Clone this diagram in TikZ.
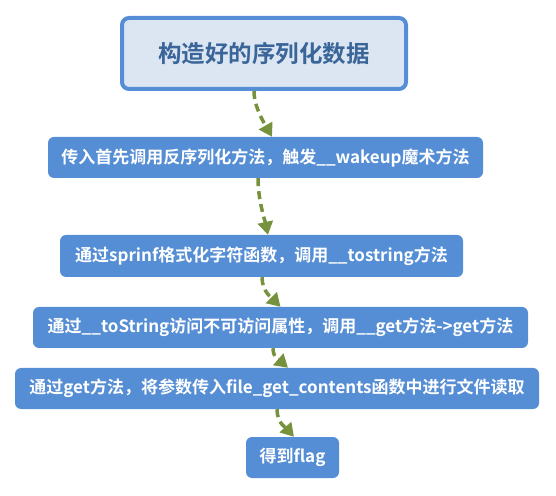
\documentclass[tikz,border=0pt]{standalone}
\usepackage{fontspec}
\setmainfont{Noto Sans CJK SC}[BoldFont={Noto Sans CJK SC Bold}]
\usepackage{tikz}
\usetikzlibrary{arrows.meta,positioning,calc}

\definecolor{boxblue}{HTML}{558ED5}
\definecolor{topfill}{HTML}{DCE6F2}
\definecolor{toptext}{HTML}{3A6599}
\definecolor{arrowgreen}{HTML}{76923C}

\begin{document}
\begin{tikzpicture}[x=1pt, y=1pt,
    topbox/.style={draw=boxblue, line width=4pt, fill=topfill, rounded corners=7pt,
        minimum width=284pt, minimum height=71pt, inner sep=0pt,
        text=toptext, font=\fontsize{23.5}{28}\selectfont\bfseries},
    stepbox/.style={fill=boxblue, rounded corners=6pt, minimum height=41pt, inner sep=0pt,
        text=white, font=\fontsize{17}{20}\selectfont\bfseries},
    flow/.style={arrowgreen, line width=3.5pt, dash pattern=on 8pt off 5pt,
        -{Triangle[length=13pt, width=15pt]}}]
    \useasboundingbox (0,0) rectangle (556,495);

    % Boxes
    \node[topbox] (data) at (264, 441.5) {构造好的序列化数据};
    \node[stepbox, minimum width=435pt] (wake) at (265.5, 337.5) {传入首先调用反序列化方法，触发\_\_wakeup魔术方法};
    \node[stepbox, minimum width=403pt, minimum height=42pt] (tostr) at (261.5, 239) {通过sprinf格式化字符函数，调用\_\_tostring方法};
    \node[stepbox, minimum width=495pt] (getm) at (280.5, 167.5) {通过\_\_toString访问不可访问属性，调用\_\_get方法->get方法};
    \node[stepbox, minimum width=524pt] (read) at (277, 106.5) {通过get方法，将参数传入file\_get\_contents函数中进行文件读取};
    \node[stepbox, minimum width=93pt] (flag) at (292.5, 37.5) {得到flag};

    % Dashed connectors
    \draw[flow] ([xshift=-10pt]data.south) .. controls +(0,-16) and +(-8,14) .. ([xshift=6.5pt]wake.north);
    \draw[flow] ([xshift=-7.5pt]wake.south) .. controls +(0,-22) and +(-3,14) .. ([xshift=6.5pt]tostr.north);
    \draw[flow] ([xshift=0.5pt]tostr.south) .. controls +(0,-14) and +(-9,9) .. (getm.north);
    \draw[flow] ([xshift=-7.5pt]getm.south) .. controls +(0,-10) and +(-8,7) .. ([xshift=11pt]read.north);
    \draw[flow] (read.south) .. controls +(0,-14) and +(-8,9) .. ([xshift=1.5pt]flag.north);
\end{tikzpicture}
\end{document}
